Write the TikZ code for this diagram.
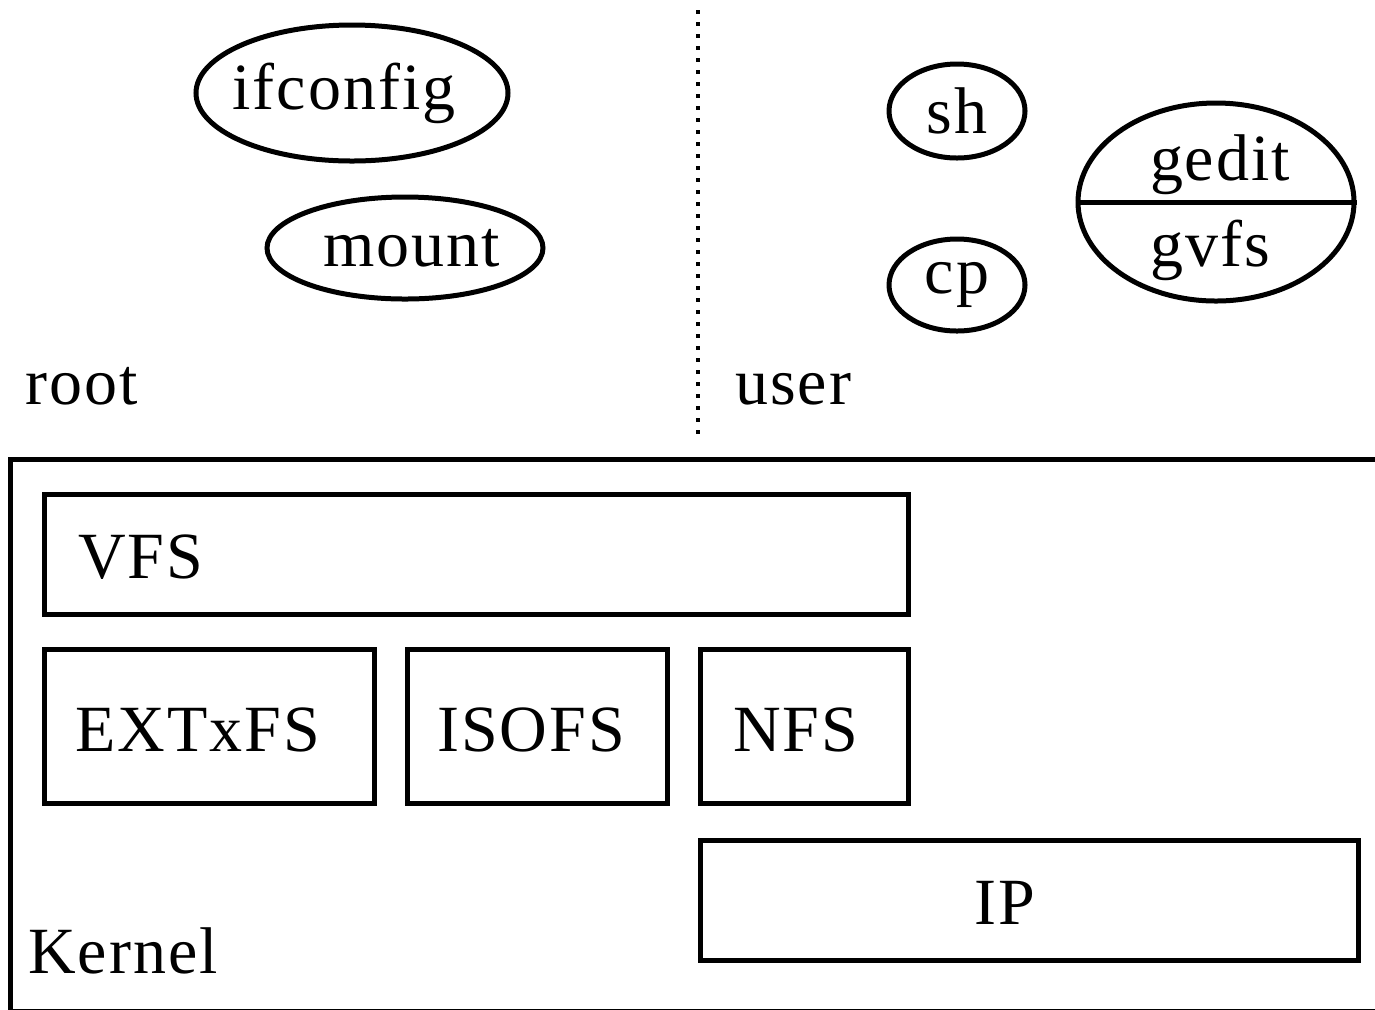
\documentclass[tikz,border=0pt]{standalone}
\usepackage{fontspec}
\setmainfont{Liberation Serif}[LetterSpace=3]
\usetikzlibrary{shapes.geometric}
\begin{document}
\begin{tikzpicture}[x=0.5pt,y=-0.5pt,
  lw/.style={line width=2.5pt},
  proc/.style={draw,lw,ellipse,inner sep=0pt},
  box/.style={draw,lw,rectangle,inner sep=0pt,anchor=north west},
  lbl/.style={font=\fontsize{33}{36}\selectfont,inner sep=0pt}]
\useasboundingbox (0,0) rectangle (1375,1009);
\clip (0,0) rectangle (1375,1009);
% user/root separator
\coordinate (sepTop) at (698,10);
\coordinate (sepBot) at (698,438);
\draw[line width=2pt,dash pattern=on 2pt off 4pt] (sepTop) -- (sepBot);
% processes
\node[proc,minimum width=156pt,minimum height=68pt] (ifconfig) at (352,93) {};
\node[lbl] (ifconfigl) at (344,93) {ifconfig};
\node[proc,minimum width=138pt,minimum height=51pt] (mount) at (405,248) {};
\node[lbl] (mountl) at (412,248) {mount};
\node[proc,lbl,minimum width=68pt,minimum height=47pt] (sh) at (957,111) {sh};
\node[proc,lbl,minimum width=68pt,minimum height=46pt] (cp) at (957,285) {cp};
\node[proc,minimum width=138pt,minimum height=99pt] (gg) at (1216,202) {};
\draw[lw] (gg.west) -- (gg.east);
\node[lbl,anchor=base] (gedit) at (1220,180) {gedit};
\node[lbl,anchor=base] (gvfs) at (1210,266) {gvfs};
\node[lbl,anchor=base west] (root) at (25,404) {root};
\node[lbl,anchor=base west] (user) at (735,404) {user};
% kernel
\node[box,minimum width=700pt,minimum height=276pt] (kernel) at (8,457) {};
\node[lbl,anchor=base west] (kl) at (28,973) {Kernel};
\node[box,minimum width=432pt,minimum height=60pt] (vfs) at (42,492) {};
\node[lbl,anchor=west] (vfsl) at (78,557) {VFS};
\node[box,minimum width=165pt,minimum height=77pt] (ext) at (42,647) {};
\node[lbl] (extl) at (198,730) {EXTxFS};
\node[box,minimum width=130pt,minimum height=77pt] (iso) at (405,647) {};
\node[lbl] (isol) at (531,730) {ISOFS};
\node[box,minimum width=104pt,minimum height=77pt] (nfs) at (698,647) {};
\node[lbl,anchor=west] (nfsl) at (733,730) {NFS};
\node[box,minimum width=329pt,minimum height=60pt] (ip) at (698,838) {};
\node[lbl] (ipl) at (1005,903) {IP};
\end{tikzpicture}
\end{document}
